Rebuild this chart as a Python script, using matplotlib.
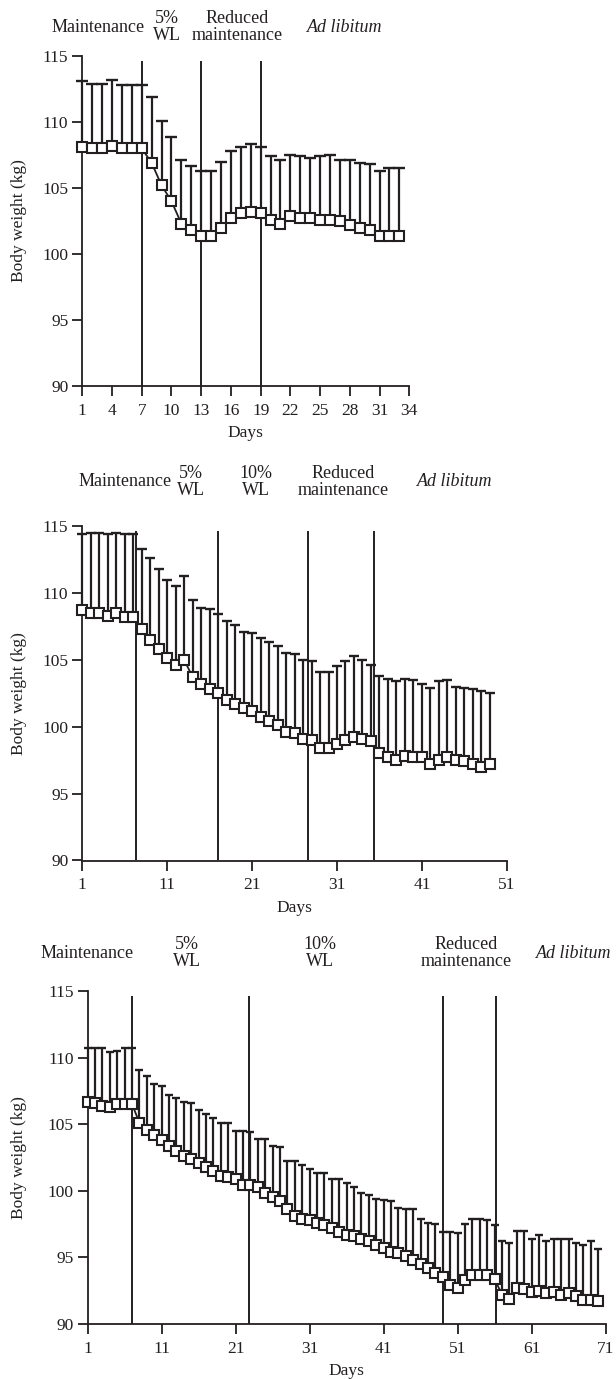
import numpy as np
import matplotlib
matplotlib.use("Agg")
import matplotlib.pyplot as plt

plt.rcParams['font.family'] = ['Liberation Serif', 'DejaVu Serif']

INK = '#231f20'
W, H = 616, 1379

# Panel 1 (34 days)
p1_days = list(range(1, 34))
p1_mean = [108.1, 108.0, 108.0, 108.2, 108.0, 108.0, 108.0, 106.9, 105.2, 104.0,
           102.3, 101.8, 101.4, 101.4, 102.0, 102.7, 103.1, 103.2, 103.1, 102.6,
           102.3, 102.9, 102.7, 102.7, 102.6, 102.6, 102.5, 102.2, 102.0, 101.8,
           101.4, 101.4, 101.4]
p1_upper = [113.1, 112.9, 112.9, 113.2, 112.8, 112.8, 112.8, 111.9, 110.1, 108.9,
            107.1, 106.7, 106.3, 106.3, 107.0, 107.8, 108.1, 108.3, 108.1, 107.4,
            107.1, 107.5, 107.4, 107.3, 107.4, 107.5, 107.1, 107.1, 106.9, 106.8,
            106.3, 106.5, 106.5]
p1_phase_days = [7, 13, 19]
p1_xticks = [1, 4, 7, 10, 13, 16, 19, 22, 25, 28, 31, 34]

# Panel 2 (51 days)
p2_days = list(range(1, 50))
p2_mean = [108.7, 108.5, 108.5, 108.3, 108.5, 108.2, 108.2, 107.3, 106.5, 105.8,
           105.1, 104.6, 105.0, 103.7, 103.2, 102.8, 102.5, 102.0, 101.7, 101.4,
           101.2, 100.7, 100.4, 100.1, 99.6, 99.5, 99.1, 99.0, 98.4, 98.4,
           98.7, 99.0, 99.2, 99.1, 98.9, 98.0, 97.7, 97.5, 97.8, 97.7,
           97.7, 97.2, 97.5, 97.7, 97.5, 97.4, 97.2, 97.0, 97.2]
p2_upper = [114.4, 114.5, 114.5, 114.4, 114.5, 114.4, 114.4, 113.3, 112.6, 111.8,
            111.0, 110.5, 111.3, 109.5, 108.9, 108.8, 108.4, 107.9, 107.6, 107.1,
            107.0, 106.6, 106.3, 106.0, 105.5, 105.4, 105.0, 104.9, 104.1, 104.1,
            104.5, 104.9, 105.3, 105.0, 104.6, 103.8, 103.6, 103.4, 103.6, 103.5,
            103.2, 102.9, 103.4, 103.5, 103.0, 102.9, 102.8, 102.7, 102.5]
p2_phase_days = [7.3, 17, 27.6, 35.4]
p2_xticks = [1, 11, 21, 31, 41, 51]

# Panel 3 (71 days)
p3_days = list(range(1, 71))
p3_mean = [106.7, 106.6, 106.4, 106.3, 106.5, 106.5, 106.5, 105.1, 104.6, 104.2,
           103.8, 103.4, 103.0, 102.6, 102.4, 102.1, 101.8, 101.5, 101.1, 101.0,
           100.9, 100.4, 100.4, 100.3, 99.8, 99.5, 99.2, 98.6, 98.1, 97.9,
           97.8, 97.6, 97.4, 97.2, 96.9, 96.7, 96.6, 96.4, 96.2, 95.9,
           95.7, 95.4, 95.3, 95.1, 94.8, 94.5, 94.2, 93.8, 93.5, 92.9,
           92.7, 93.3, 93.7, 93.7, 93.7, 93.4, 92.2, 91.9, 92.7, 92.6,
           92.4, 92.5, 92.3, 92.4, 92.2, 92.3, 92.1, 91.8, 91.8, 91.7]
p3_upper = [110.7, 110.7, 110.7, 110.4, 110.5, 110.7, 110.7, 109.1, 108.6, 108.0,
            107.9, 107.2, 107.0, 106.7, 106.6, 106.1, 105.8, 105.5, 105.1, 105.1,
            104.5, 104.5, 104.4, 103.9, 103.9, 103.4, 103.3, 102.2, 102.2, 101.9,
            101.6, 101.3, 101.3, 100.9, 100.9, 100.6, 100.3, 99.8, 99.7, 99.4,
            99.3, 99.2, 98.7, 98.6, 98.6, 97.9, 97.6, 97.5, 96.9, 96.9,
            96.8, 97.5, 97.9, 97.9, 97.8, 97.4, 96.2, 96.1, 97.0, 97.0,
            96.4, 96.7, 96.2, 96.4, 96.4, 96.4, 96.1, 95.9, 96.2, 95.6]
p3_phase_days = [7, 22.8, 49, 56.2]
p3_xticks = [1, 11, 21, 31, 41, 51, 61, 71]

yticks = [90, 95, 100, 105, 110, 115]

# phase headings above each panel (text, centre x in pixels)
p1_phases = [("Maintenance", 98), ("5%\nWL", 167), ("Reduced\nmaintenance", 237),
             ("Ad libitum", 345)]
p2_phases = [("Maintenance", 125), ("5%\nWL", 191), ("10%\nWL", 256),
             ("Reduced\nmaintenance", 343), ("Ad libitum", 455)]
p3_phases = [("Maintenance", 87), ("5%\nWL", 187), ("10%\nWL", 320),
             ("Reduced\nmaintenance", 466), ("Ad libitum", 574)]

fig = plt.figure(figsize=(W / 100, H / 100), dpi=100)


def panel(x0, x1, ytop, ybot, days, mean, upper, lines, xticks, xmax,
          phases, text_y, ms, cap):
    ax = fig.add_axes([x0 / W, 1 - ybot / H, (x1 - x0) / W, (ybot - ytop) / H])
    ax.set_xlim(1, xmax)
    ax.set_ylim(90, 115)
    for s in ['top', 'right']:
        ax.spines[s].set_visible(False)
    for s in ['left', 'bottom']:
        ax.spines[s].set_linewidth(1.3)
        ax.spines[s].set_color(INK)
    ax.set_xticks(xticks)
    ax.set_yticks(yticks)
    ax.tick_params(direction='out', length=7, width=1.3, color=INK,
                   labelsize=12.5, labelcolor=INK)
    ax.tick_params(axis='x', pad=5)
    ax.tick_params(axis='y', pad=3)

    ax.vlines(lines, 90, 114.6, color=INK, lw=1.4, zorder=1)
    ax.vlines(days, mean, upper, color=INK, lw=1.6, zorder=2, clip_on=False)
    ax.plot(days, upper, ls='none', marker='_', ms=cap, mew=1.7,
            color=INK, zorder=2, clip_on=False)
    ax.plot(days, mean, '-', color=INK, lw=1.3, marker='s', ms=ms,
            mfc='white', mec=INK, mew=1.5, zorder=3, clip_on=False)

    hpx = ybot - ytop
    wpx = x1 - x0
    ax.set_ylabel('Body weight (kg)', fontsize=12.5, color=INK)
    ax.yaxis.set_label_coords((27 - x0) / wpx, 0.5)
    ax.set_xlabel('Days', fontsize=12.5, color=INK)
    ax.xaxis.set_label_coords(0.5, -39 / hpx)

    for txt, xp in phases:
        italic = txt == "Ad libitum"
        fig.text(xp / W, 1 - text_y / H, txt, ha='center', va='center',
                 fontsize=13, color=INK, style='italic' if italic else 'normal',
                 linespacing=1.05)
    return ax


panel(82.3, 409.3, 56, 386, p1_days, p1_mean, p1_upper, p1_phase_days,
      p1_xticks, 34, p1_phases, 27, 7.6, 8)
panel(82.3, 506.8, 526, 860.5, p2_days, p2_mean, p2_upper, p2_phase_days,
      p2_xticks, 51, p2_phases, 482, 6.9, 6.5)
panel(87.7, 605.5, 991, 1324, p3_days, p3_mean, p3_upper, p3_phase_days,
      p3_xticks, 71, p3_phases, 953, 6.6, 5.8)

fig.savefig('out.png', dpi=100)
